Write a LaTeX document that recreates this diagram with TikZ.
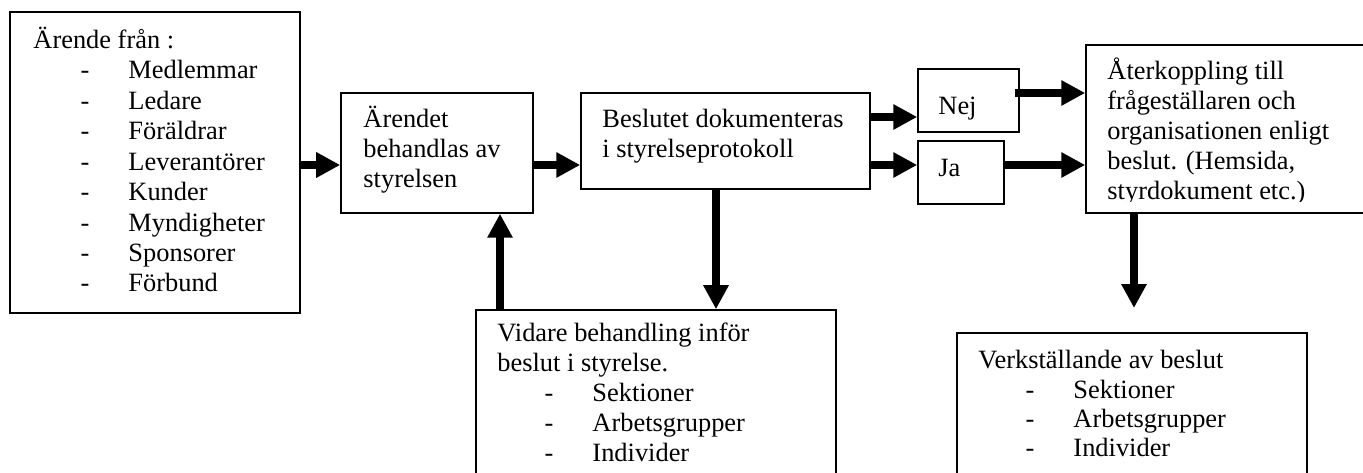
\documentclass[tikz,border=0pt]{standalone}
\usepackage{fontspec}
\setmainfont{Liberation Serif}
\usetikzlibrary{arrows.meta,fit,calc}
\newcommand\dashitem[1]{\hspace*{21.4pt}\makebox[21.8pt][l]{-}#1}
\begin{document}
\begin{tikzpicture}[x=0.4545pt,y=-0.4545pt,
  box/.style={draw, line width=0.7pt, inner sep=0pt},
  txt/.style={anchor=base west, inner sep=0pt, align=left, font=\fontsize{12pt}{13.64pt}\selectfont},
  arr/.style={line width=3.5pt, -{Triangle[length=10.9pt,width=10.9pt]}}]
\useasboundingbox (0,0) rectangle (1363,473);
\clip (0,0) rectangle (1363,473);
% boxes
\node[box, fit={(10,12)(300,313)}] (src) {};
\node[box, fit={(341,93)(533,213)}] (beh) {};
\node[box, fit={(581,93)(870,189)}] (dok) {};
\node[box, fit={(918,69)(1019,132)}] (nej) {};
\node[box, fit={(918,141)(1004,204)}] (ja) {};
\node[box, fit={(1086,45)(1375,213)}] (ater) {};
\node[box, fit={(476,310)(836,495)}] (vid) {};
\node[box, fit={(957,333)(1307,495)}] (verk) {};
% texts (anchor = baseline of the last line)
\node[txt, font=\fontsize{12pt}{13.86pt}\selectfont] (srct) at (33,292) {Ärende från :\\\dashitem{Medlemmar}\\\dashitem{Ledare}\\\dashitem{Föräldrar}\\\dashitem{Leverantörer}\\\dashitem{Kunder}\\\dashitem{Myndigheter}\\\dashitem{Sponsorer}\\\dashitem{Förbund}};
\node[txt] (beht) at (363,188) {Ärendet\\behandlas av\\styrelsen};
\node[txt] (dokt) at (602,158) {Beslutet dokumenteras\\i styrelseprotokoll};
\node[txt] (nejt) at (938,115) {Nej};
\node[txt] (jat) at (938,177) {Ja};
\begin{scope}
\clip (1086,45) rectangle (1363,201.5);
\node[txt] (atert) at (1107,200) {Återkoppling till\\frågeställaren och\\organisationen enligt\\beslut. (Hemsida,\\styrdokument etc.)};
\end{scope}
\node[txt] (vidt) at (497,462) {Vidare behandling inför\\beslut i styrelse.\\\dashitem{Sektioner}\\\dashitem{Arbetsgrupper}\\\dashitem{Individer}};
\node[txt, font=\fontsize{12pt}{13.35pt}\selectfont] (verkt) at (978,457) {Verkställande av beslut\\\dashitem{Sektioner}\\\dashitem{Arbetsgrupper}\\\dashitem{Individer}};
% connectors
\draw[arr] (src.east |- 0,165) -- (beh.west |- 0,165);
\draw[arr] (beh.east |- 0,165) -- (dok.west |- 0,165);
\draw[arr] (dok.east |- 0,117) -- (nej.west |- 0,117);
\draw[arr] (dok.east |- 0,165) -- (ja.west |- 0,165);
\draw[arr] ($(nej.east |- 0,93)+(-5,0)$) -- (ater.west |- 0,93);
\draw[arr] (ja.east |- 0,165) -- (ater.west |- 0,165);
\draw[arr] (dok.south -| 716,0) -- (vid.north -| 716,0);
\draw[arr] (vid.north -| 500,0) -- (beh.south -| 500,0);
\coordinate (vtip) at (1134,308);
\draw[arr] (ater.south -| vtip) -- (vtip);
\end{tikzpicture}
\end{document}
